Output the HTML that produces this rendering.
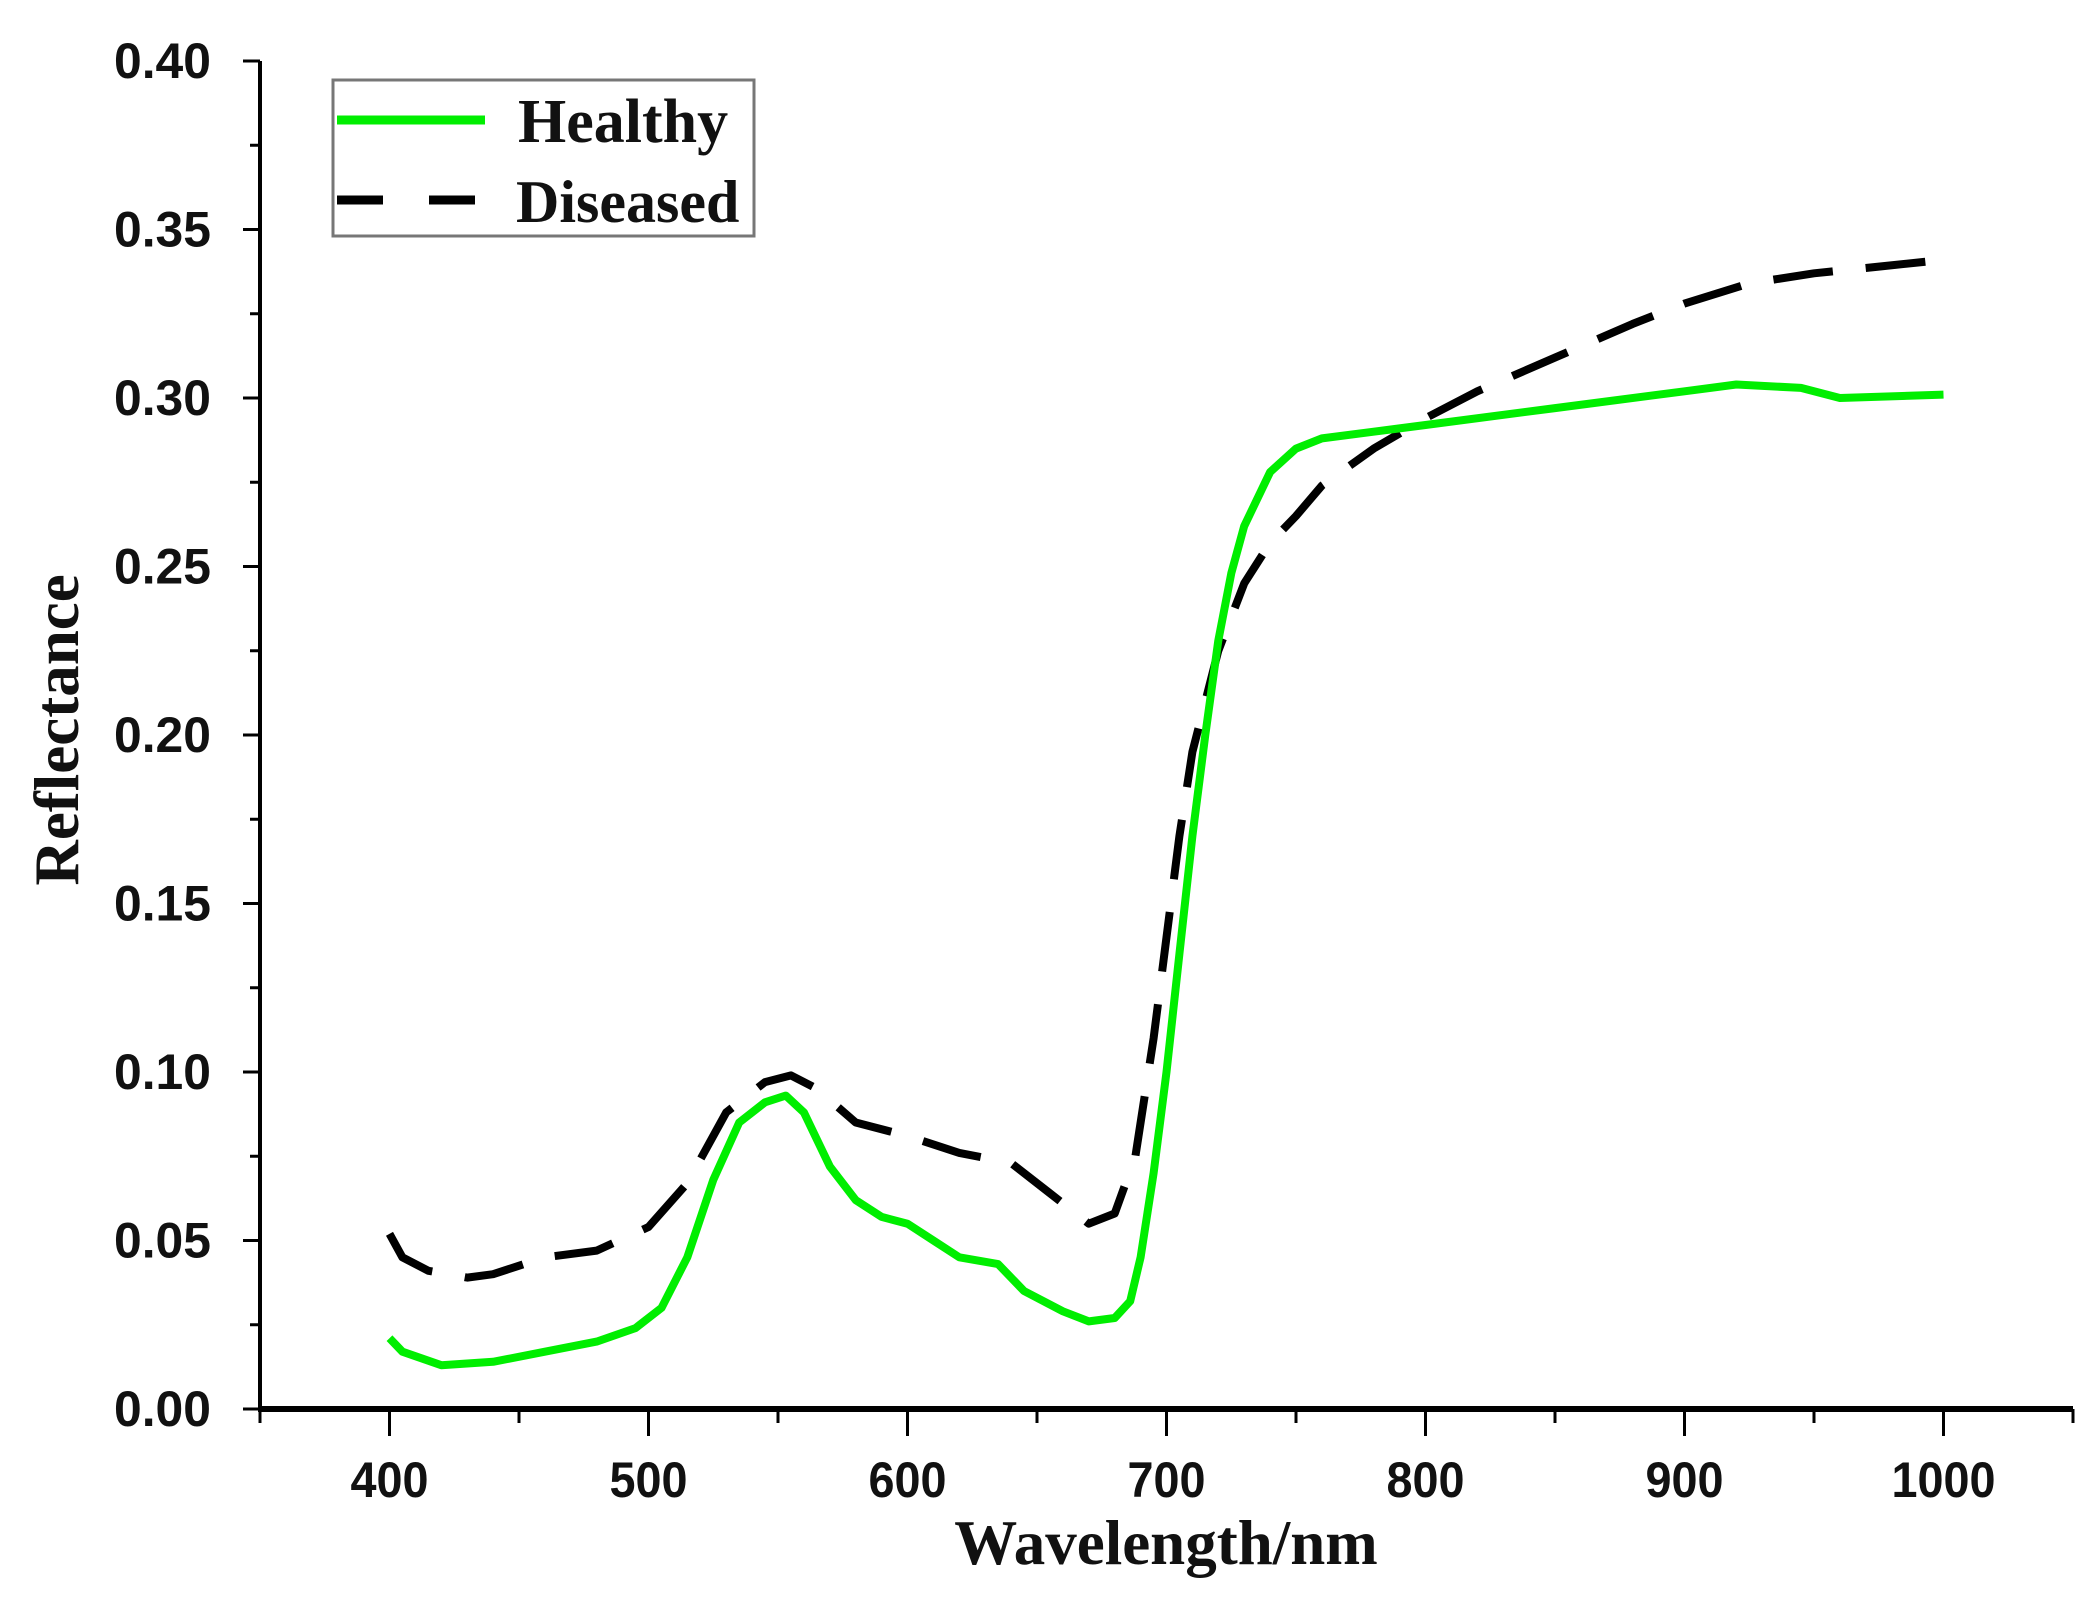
<!DOCTYPE html>
<html><head><meta charset="utf-8"><style>
html,body{margin:0;padding:0;background:#fff;}
svg{display:block;}
.tick{font-family:"Liberation Sans",Arial,sans-serif;font-weight:bold;font-size:50px;fill:#111;}
.ttl{font-family:"Liberation Serif","Times New Roman",serif;font-weight:bold;fill:#111;}
</style></head><body>
<svg id="chart" width="2094" height="1604" viewBox="0 0 2094 1604" xmlns="http://www.w3.org/2000/svg">
<g id="axes"></g>
<g id="series"></g>
<text class="ttl" x="1166" y="1564" font-size="63" text-anchor="middle">Wavelength/nm</text>
<text class="ttl" font-size="63" text-anchor="middle" transform="translate(78,730) rotate(-90)">Reflectance</text>
<g>
<rect x="333" y="80" width="421" height="156" fill="#fff" stroke="#777" stroke-width="3"/>
<line x1="337" y1="120" x2="485" y2="120" stroke="#00ee00" stroke-width="9"/>
<text class="ttl" x="518" y="142" font-size="62">Healthy</text>
<line x1="337" y1="200" x2="478" y2="200" stroke="#000" stroke-width="9" stroke-dasharray="46,46"/>
<text class="ttl" x="516" y="222" font-size="60">Diseased</text>
</g>
</svg>
<script>
const xTicks=[400,500,600,700,800,900,1000];
const yTicks=[0.00,0.05,0.10,0.15,0.20,0.25,0.30,0.35,0.40];
const yTickLabels=["0.00","0.05","0.10","0.15","0.20","0.25","0.30","0.35","0.40"];
const healthyX=[400,405,420,440,460,480,495,505,515,525,535,545,553,560,570,580,590,600,610,620,635,645,660,670,680,686,690,695,700,705,710,715,720,725,730,740,750,760,780,800,850,900,920,945,960,1000];
const healthyY=[0.021,0.017,0.013,0.014,0.017,0.020,0.024,0.030,0.045,0.068,0.085,0.091,0.093,0.088,0.072,0.062,0.057,0.055,0.050,0.045,0.043,0.035,0.029,0.026,0.027,0.032,0.045,0.070,0.100,0.135,0.170,0.200,0.228,0.248,0.262,0.278,0.285,0.288,0.290,0.292,0.297,0.302,0.304,0.303,0.300,0.301];
const diseasedX=[400,405,415,430,440,460,480,500,515,530,545,555,565,580,600,620,640,655,670,680,688,695,700,705,710,720,730,740,750,760,780,800,820,850,880,900,925,950,975,1000];
const diseasedY=[0.052,0.045,0.041,0.039,0.040,0.045,0.047,0.054,0.067,0.088,0.097,0.099,0.095,0.085,0.081,0.076,0.073,0.064,0.055,0.058,0.075,0.110,0.140,0.170,0.195,0.225,0.245,0.257,0.265,0.274,0.285,0.294,0.302,0.312,0.322,0.328,0.334,0.337,0.339,0.341];
const X0=260,X1=2073,Y0=1409,Y1=61,xmin=350,xmax=1050,ymin=0,ymax=0.4;
const sx=v=>X0+(v-xmin)/(xmax-xmin)*(X1-X0);
const sy=v=>Y0-(v-ymin)/(ymax-ymin)*(Y0-Y1);
const NS="http://www.w3.org/2000/svg";
const axes=document.getElementById('axes');
function mk(t,a,p){const e=document.createElementNS(NS,t);for(const k in a)e.setAttribute(k,a[k]);p.appendChild(e);return e;}
let e;
e=mk('line',{x1:X0,y1:Y0,x2:X1,y2:Y0,stroke:'#000','stroke-width':6},axes);


e=mk('line',{x1:X0,y1:Y0+3,x2:X0,y2:Y1,stroke:'#000','stroke-width':4},axes);


for(let v=xmin;v<=xmax;v+=50){
 const major=xTicks.includes(v);
 e=mk('line',{x1:sx(v),y1:Y0,x2:sx(v),y2:Y0+(major?27:14),stroke:'#000','stroke-width':3},axes);
 
 
}
xTicks.forEach(v=>{
 const s=String(v);
 e=mk('text',{x:sx(v),y:Y0+88,'text-anchor':'middle',class:'tick',textLength:26*s.length,lengthAdjust:'spacingAndGlyphs'},axes);
 e.textContent=s;
 
 
});
for(let i=0;i<=16;i++){
 const v=i*0.025,major=i%2==0;
 e=mk('line',{x1:X0,y1:sy(v),x2:X0-(major?17:10),y2:sy(v),stroke:'#000','stroke-width':3},axes);
 
 
}
yTicks.forEach((v,i)=>{
 e=mk('text',{x:114,y:sy(v)+17,class:'tick',textLength:97,lengthAdjust:'spacingAndGlyphs'},axes);
 e.textContent=yTickLabels[i];
 
 
});
const ser=document.getElementById('series');
function path(xs,ys){return xs.map((x,i)=>(i?'L':'M')+sx(x).toFixed(1)+' '+sy(ys[i]).toFixed(1)).join(' ');}
e=mk('path',{d:path(diseasedX,diseasedY),fill:'none',stroke:'#000','stroke-width':8,'stroke-dasharray':'60,33','stroke-linejoin':'round'},ser);


e=mk('path',{d:path(healthyX,healthyY),fill:'none',stroke:'#00ee00','stroke-width':8,'stroke-linejoin':'round'},ser);


</script>
</body></html>
